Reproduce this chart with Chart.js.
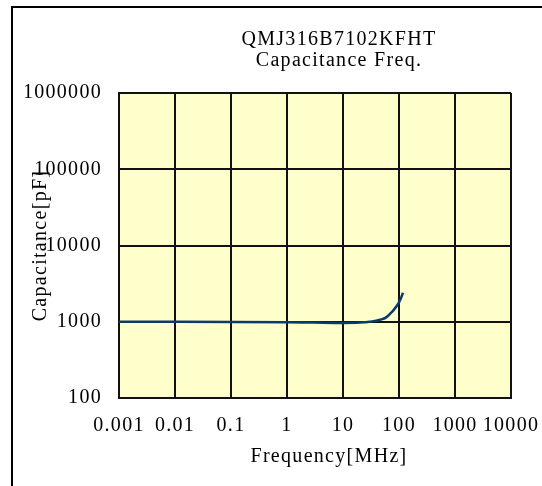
<!DOCTYPE html>
<html>
<head>
<meta charset="utf-8">
<title>QMJ316B7102KFHT Capacitance Freq.</title>
<script src="https://cdn.jsdelivr.net/npm/chart.js@4.4.0/dist/chart.umd.min.js"></script>
<style>
  html, body { margin: 0; padding: 0; background: #fff; }
  #wrap { width: 542px; height: 486px; }
</style>
</head>
<body>
<div id="wrap"><canvas id="cap-chart" width="542" height="486"></canvas></div>
<script>
// data
var freq = [0.001, 0.01, 0.1, 1, 3, 10, 20, 30, 46, 60, 69, 80, 100, 110, 118];
var capacitance = [1000, 1000, 995, 985, 975, 965, 975, 1000, 1060, 1150, 1270, 1420, 1800, 2100, 2400];
var xTicks = [0.001, 0.01, 0.1, 1, 10, 100, 1000, 10000];
var yTicks = [100, 1000, 10000, 100000, 1000000];
var titleLines = ['QMJ316B7102KFHT', 'Capacitance Freq.'];

var serif = "'Liberation Serif', 'Times New Roman', serif";

// yellow plot area + the outer frame line (only top & left show in the picture)
var framePlugin = {
  id: 'frame',
  beforeLayout: function(chart) {
    // the original text is drawn a bit wide
    chart.ctx.letterSpacing = '1.3px';
  },
  beforeDraw: function(chart) {
    var ctx = chart.ctx, a = chart.chartArea;
    ctx.letterSpacing = '1.3px';
    ctx.save();
    ctx.fillStyle = '#fff';
    ctx.fillRect(0, 0, chart.width, chart.height);
    ctx.fillStyle = '#ffffcc';
    ctx.fillRect(a.left, a.top, a.right - a.left, a.bottom - a.top);
    ctx.strokeStyle = '#000';
    ctx.lineWidth = 2;
    ctx.strokeRect(12, 7, 1000, 1000);
    ctx.restore();
  },
  afterLayout: function(chart) {
    // the title sits a bit right of the plot centre
    if (chart.titleBlock) {
      chart.titleBlock.left = 136;
      chart.titleBlock.right = 542;
    }
    // so does the x axis title
    var xs = chart.scales.x;
    if (!xs._origDrawTitle) {
      xs._origDrawTitle = xs.drawTitle;
      xs.drawTitle = function() {
        this.ctx.save();
        this.ctx.translate(14, 0);
        this._origDrawTitle();
        this.ctx.restore();
      };
    }
  }
};

var data = {
  datasets: [{
    label: 'Capacitance',
    data: freq.map(function(f, i) { return { x: f, y: capacitance[i] }; }),
    borderColor: '#0b3b6d',
    borderWidth: 2.5,
    pointRadius: 0,
    fill: false,
    cubicInterpolationMode: 'monotone'
  }]
};

var options = {
  responsive: false,
  devicePixelRatio: 1,
  animation: false,
  layout: { padding: { left: 25, right: 31, top: 0, bottom: 0 } },
  plugins: {
    legend: { display: false },
    tooltip: { enabled: false },
    title: {
      display: true,
      text: titleLines,
      color: '#000',
      font: { family: serif, size: 20, weight: 'normal', lineHeight: 1.05 },
      padding: { top: 29, bottom: 22 }
    }
  },
  scales: {
    x: {
      type: 'logarithmic',
      min: 0.001,
      max: 10000,
      afterBuildTicks: function(scale) {
        scale.ticks = xTicks.map(function(v) { return { value: v }; });
      },
      afterFit: function(scale) {
        scale.height = 88;
        scale.paddingLeft = 0;
        scale.paddingRight = 0;
      },
      grid: { color: '#111', lineWidth: 2, drawTicks: false },
      border: { display: true, color: '#111', width: 2 },
      ticks: {
        autoSkip: false,
        maxRotation: 0,
        padding: 16,
        color: '#000',
        font: { family: serif, size: 20 },
        callback: function(v) { return String(v); }
      },
      title: {
        display: true,
        text: 'Frequency[MHz]',
        color: '#000',
        font: { family: serif, size: 20 },
        padding: { top: 4, bottom: 17 }
      }
    },
    y: {
      type: 'logarithmic',
      min: 100,
      max: 1000000,
      afterBuildTicks: function(scale) {
        scale.ticks = yTicks.map(function(v) { return { value: v }; });
      },
      afterFit: function(scale) { scale.width = 94; },
      grid: { color: '#111', lineWidth: 2, drawTicks: false },
      border: { display: true, color: '#111', width: 2 },
      ticks: {
        autoSkip: false,
        padding: 17,
        color: '#000',
        font: { family: serif, size: 20 },
        callback: function(v) { return String(v); }
      },
      title: {
        display: true,
        text: 'Capacitance[pF]',
        color: '#000',
        font: { family: serif, size: 20 },
        padding: { top: 4, bottom: 4 }
      }
    }
  }
};

var ctx = document.getElementById('cap-chart').getContext('2d');
var capChart = new Chart(ctx, { type: 'line', data: data, options: options, plugins: [framePlugin] });
</script>
</body>
</html>
